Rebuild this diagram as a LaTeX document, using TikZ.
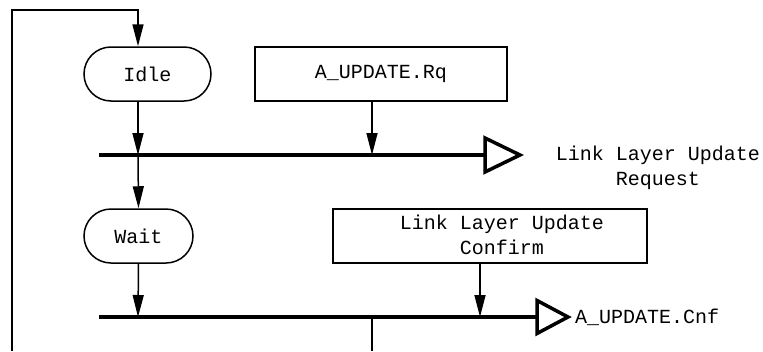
\documentclass[tikz,border=0pt]{standalone}
\usepackage{fontspec}
\setmonofont{Liberation Mono}
\usetikzlibrary{arrows.meta}
\tikzset{
  every node/.style={font=\ttfamily\fontsize{20}{25}\selectfont},
  state/.style={draw, line width=1.5pt, rounded corners=27pt, minimum height=54pt, inner sep=0pt},
  signalbox/.style={draw, line width=1.5pt, minimum height=54pt, inner sep=0pt},
  flow/.style={line width=1.5pt, -{Triangle[length=22pt,width=11pt]}},
  wire/.style={line width=1.5pt},
  bar/.style={line width=4pt},
  outsig/.style={line width=3.5pt, line join=miter},
  caption/.style={align=center, inner sep=0pt}
}
\begin{document}
\begin{tikzpicture}[x=1pt, y=-1pt]
  \useasboundingbox (0,0) rectangle (763,351);

  % columns used by the vertical connectors
  \coordinate (colA) at (138,0);
  \coordinate (colB) at (372,0);
  \coordinate (colC) at (480,0);

  % states and input signals
  \node[state, minimum width=127pt] (idle) at (147.5,74) {Idle};
  \node[state, minimum width=109pt] (wait) at (138.5,236) {Wait};
  \node[signalbox, minimum width=252pt] (rq) at (381,74) {A\_UPDATE.Rq};
  \node[signalbox, minimum width=314pt] (cnf) at (490,236) {};
  \node[caption] (cnftext) at (502,235) {Link Layer Update\\Confirm};

  % transition bars
  \coordinate (b1w) at (99,155);
  \coordinate (b1e) at (485,155);
  \coordinate (b2w) at (99,317);
  \coordinate (b2e) at (537,317);
  \draw[bar] (b1w) -- (b1e);
  \draw[bar] (b2w) -- (b2e);

  % output signal symbols
  \draw[outsig] (b1e) ++(0,-17) -- ++(35,17) -- ++(-35,17) -- cycle;
  \draw[outsig] (b2e) ++(0,-16.5) -- ++(31,16.5) -- ++(-31,16.5) -- cycle;
  \node[caption] (reqtext) at (658,167.5) {Link Layer Update\\Request};
  \node[caption, anchor=west] (cnfout) at (575,317) {A\_UPDATE.Cnf};

  % loop back to Idle
  \coordinate (loopbot) at (12,351);
  \coordinate (looptop) at (12,10);
  \draw[flow] (loopbot) -- (looptop) -| (idle.north -| colA);

  % Idle branch
  \draw[flow] (idle.south -| colA) -- (b1w -| colA);
  \draw[flow] (rq.south -| colB) -- (b1w -| colB);
  \draw[flow] (b1w -| colA) -- (wait.north);

  % Wait branch
  \draw[flow] (wait.south) -- (b2w -| colA);
  \draw[flow] (cnf.south -| colC) -- (b2w -| colC);
  \coordinate (exit) at (372,351);
  \draw[wire] (b2w -| colB) -- (exit);
\end{tikzpicture}
\end{document}
